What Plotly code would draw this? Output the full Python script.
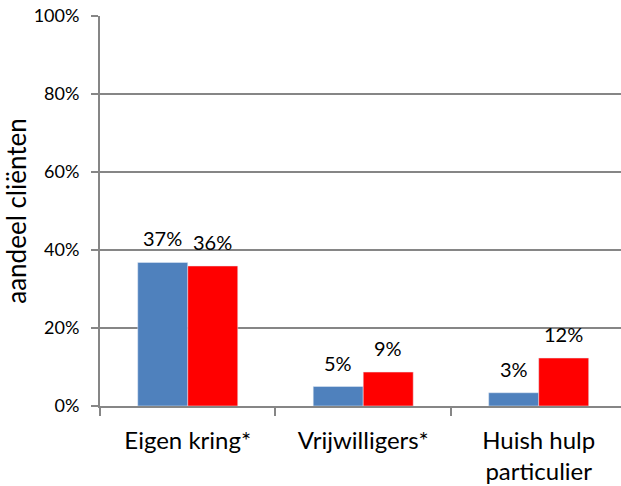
import plotly.graph_objects as go

categories = ["Eigen kring*", "Vrijwilligers*", "Huish hulp<br>particulier"]
series_a = [0.368, 0.050, 0.034]
series_b = [0.359, 0.087, 0.123]
y_ticks = [0, 0.2, 0.4, 0.6, 0.8, 1.0]
y_title = "aandeel cliënten"

FONT = "Lato"
BLUE = "#4F81BD"
RED = "#FF0000"
GRID = "#868686"
BARGAP = 0.43

fig = go.Figure()
fig.add_trace(go.Bar(x=categories, y=series_a, marker_color=BLUE, name="A"))
fig.add_trace(go.Bar(x=categories, y=series_b, marker_color=RED, name="B"))

# data labels above bars
bar_w = (1 - BARGAP) / 2
annotations = []
for offset, vals in ((-bar_w / 2, series_a), (bar_w / 2, series_b)):
    for i, v in enumerate(vals):
        annotations.append(dict(
            x=i + offset, y=v, xref="x", yref="y",
            text=f"{round(v * 100):d}%", showarrow=False,
            yanchor="bottom", yshift=10,
            font=dict(family=FONT, size=20, color="#000"),
        ))

fig.update_layout(
    width=621, height=486,
    margin=dict(l=100, r=0, t=16, b=80),
    paper_bgcolor="white", plot_bgcolor="white",
    barmode="group", bargap=BARGAP, bargroupgap=0,
    showlegend=False,
    annotations=annotations,
    font=dict(family=FONT, color="#000"),
)
fig.update_xaxes(
    type="category", range=[-0.5, 2.469], automargin=False,
    showline=True, linecolor=GRID, linewidth=2,
    ticks="outside", tickson="boundaries", ticklen=8, tickcolor=GRID, tickwidth=1.5,
    tickfont=dict(family=FONT, size=24, color="#000"),
    ticklabelstandoff=12,
    showgrid=False,
)
fig.update_yaxes(
    range=[0, 1], tickvals=y_ticks, tickformat=".0%", automargin=False,
    showline=True, linecolor=GRID, linewidth=2,
    ticks="outside", ticklen=7, tickcolor=GRID, tickwidth=1.5,
    showgrid=True, gridcolor=GRID, gridwidth=1.5,
    zeroline=False,
    tickfont=dict(family=FONT, size=18, color="#000"),
    ticklabelstandoff=8,
    title=dict(text=y_title, font=dict(family=FONT, size=26, color="#000"), standoff=3),
)

fig.write_html("out.html", config={"displayModeBar": False},
               post_script="document.body.style.margin='0';")
